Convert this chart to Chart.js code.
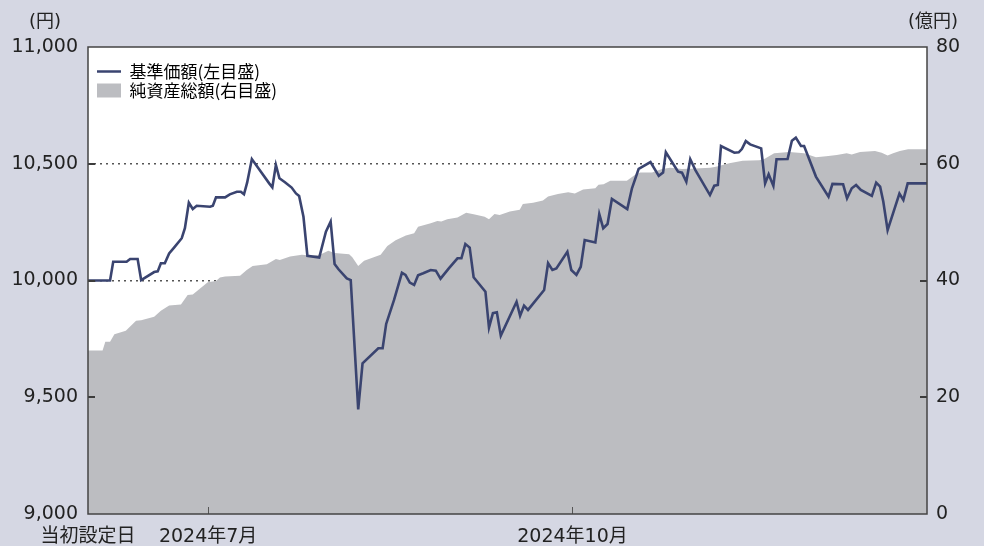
<!DOCTYPE html>
<html lang="ja">
<head>
<meta charset="utf-8">
<script src="https://cdn.jsdelivr.net/npm/chart.js@4.4.1/dist/chart.umd.min.js"></script>
<style>
  html, body { margin: 0; padding: 0; background: #d5d7e3; }
  #wrap { width: 984px; height: 546px; position: relative; }
</style>
</head>
<body>
<div id="wrap"><canvas id="chart" width="984" height="546"></canvas></div>
<script>
const FONT = '"Noto Sans CJK JP", "Noto Sans", sans-serif';
const NUM_FONT = '"DejaVu Sans", "Noto Sans CJK JP", sans-serif';
const NAVY = '#3a4470';
const GRAY = '#bcbdc1';

// x = 当初設定日からの経過日数
const navDay = [0, 5.6, 6.4, 9.8, 10.7, 12.6, 13.5, 16.8, 17.7, 18.5, 19.5, 20.6, 21.9, 23.8, 24.6, 25.6, 26.6, 27.6,
  31.0, 31.7, 32.5, 34.8, 36.0, 37.8, 38.8, 39.6, 40.4, 41.6, 46.0, 46.8, 47.7, 48.6, 50.0, 51.7, 52.8, 53.6,
  54.7, 55.7, 58.7, 60.4, 61.6, 62.6, 63.6, 65.7, 66.7, 68.6, 69.7, 73.7, 74.8, 75.7, 77.7, 79.7, 80.6, 81.7,
  82.8, 83.8, 85.1, 87.0, 88.3, 89.5, 91.6, 93.8, 94.8, 95.8, 96.9, 97.9, 100.9, 101.8, 102.8, 103.8, 104.8,
  108.8, 109.7, 110.7, 111.7, 115.8, 116.8, 117.9, 118.9, 121.7, 122.7, 124.0, 125.1, 126.1, 128.8, 129.8,
  130.8, 131.9, 133.0, 136.9, 138.1, 139.8, 142.8, 144.9, 146.0, 146.7, 149.8, 150.8, 151.9, 152.9, 154.2,
  157.9, 159.0, 159.9, 160.7, 164.1, 165.2, 166.0, 167.0, 168.1, 170.9, 171.9, 172.8, 174.0, 174.8, 177.6,
  178.7, 179.7, 181.0, 181.8, 184.8, 188.0, 189.0, 191.7, 192.7, 193.9, 195.0, 196.2, 199.0, 200.1, 201.1,
  201.9, 203.0, 206.0, 207.0, 208.1, 213.0];
const navValue = [10000, 10000, 10080, 10080, 10092, 10092, 10002, 10036, 10039, 10074, 10074, 10116, 10142, 10181, 10224, 10333, 10306, 10320,
  10316, 10320, 10356, 10356, 10369, 10380, 10380, 10369, 10419, 10520, 10416, 10399, 10495, 10438, 10421, 10398, 10373, 10362,
  10273, 10106, 10098, 10209, 10252, 10071, 10048, 10009, 10002, 9448, 9645, 9710, 9710, 9814, 9917, 10033, 10024, 9991,
  9981, 10022, 10031, 10045, 10042, 10008, 10052, 10095, 10095, 10156, 10141, 10014, 9952, 9798, 9860, 9864, 9764,
  9909, 9849, 9892, 9874, 9959, 10074, 10045, 10052, 10123, 10045, 10024, 10059, 10173, 10163, 10284,
  10224, 10242, 10349, 10306, 10395, 10478, 10507, 10448, 10462, 10549, 10466, 10462, 10423, 10519, 10473,
  10366, 10406, 10409, 10576, 10547, 10549, 10563, 10597, 10583, 10566, 10416, 10455, 10405, 10519, 10520,
  10599, 10612, 10576, 10576, 10445, 10359, 10414, 10412, 10352, 10395, 10409, 10388, 10362, 10419, 10402,
  10338, 10216, 10372, 10345, 10416, 10416];

const assetDay = [0, 3.7, 4.4, 5.6, 6.7, 9.6, 12.2, 13.5, 16.8, 18.5, 20.6, 23.6, 25.3, 26.6, 30.4, 32.5, 33.5, 34.8,
  38.6, 40.3, 41.8, 45.4, 47.7, 48.7, 51.3, 54.3, 56.4, 58.9, 61.0, 62.6, 66.3, 67.1, 68.6, 70.1, 74.3, 76.0,
  78.1, 80.7, 82.8, 83.8, 87.0, 88.7, 89.7, 91.2, 93.8, 96.0, 98.2, 100.7, 101.8, 103.2, 104.5, 107.1, 109.6,
  110.4, 113.0, 115.5, 116.8, 119.3, 121.9, 123.6, 125.7, 128.8, 129.6, 130.9, 132.6, 136.8, 138.9, 140.2,
  143.2, 145.7, 147.8, 150.8, 154.2, 158.0, 159.4, 162.8, 166.2, 170.4, 171.7, 174.2, 178.0, 181.8, 184.8,
  187.4, 190.1, 192.6, 193.9, 196.0, 199.8, 201.5, 203.0, 204.4, 206.1, 208.2, 213.0];
const assetValue = [28.0, 28.0, 29.5, 29.5, 30.8, 31.4, 33.1, 33.2, 33.8, 34.8, 35.7, 35.9, 37.5, 37.6, 39.7, 39.9, 40.5, 40.7,
  40.8, 41.8, 42.5, 42.8, 43.7, 43.5, 44.1, 44.4, 44.3, 44.4, 45.1, 44.7, 44.5, 44.0, 42.5, 43.4, 44.4, 45.9,
  46.9, 47.7, 48.1, 49.2, 49.8, 50.2, 50.1, 50.5, 50.8, 51.6, 51.3, 50.9, 50.5, 51.4, 51.2, 51.8, 52.1,
  53.1, 53.3, 53.7, 54.4, 54.8, 55.1, 54.9, 55.6, 55.8, 56.4, 56.5, 57.1, 57.1, 58.1, 58.5,
  58.5, 59.1, 59.3, 59.1, 59.2, 59.3, 59.5, 60.1, 60.5, 60.6, 60.8, 61.8, 62.0, 61.8, 61.1,
  61.3, 61.5, 61.8, 61.6, 62.0, 62.2, 61.9, 61.4, 61.8, 62.2, 62.5, 62.5];

const xTickDay = [0, 30.5, 123];
const xTickLabel = ['当初設定日', '2024年7月', '2024年10月'];
const leftTicks = [9000, 9500, 10000, 10500, 11000];
const rightTicks = [0, 20, 40, 60, 80];

const toPoints = (xs, ys) => xs.map((x, i) => ({ x: x, y: ys[i] }));

// 枠・内向き目盛・単位
const frame = {
  id: 'frame',
  afterLayout(chart) {
    const lg = chart.legend;
    const a = chart.chartArea;
    const w = lg.width, h = lg.height;
    lg.left = a.left + 7;
    lg.top = a.top + 14;
    lg.right = lg.left + w;
    lg.bottom = lg.top + h;
  },
  beforeDraw(chart) {
    const { ctx, chartArea: a } = chart;
    ctx.save();
    ctx.fillStyle = '#fff';
    ctx.fillRect(a.left, a.top, a.right - a.left, a.bottom - a.top);
    ctx.restore();
  },
  afterDatasetsDraw(chart) {
    const { ctx, chartArea: a, scales } = chart;
    ctx.save();
    ctx.strokeStyle = '#3c3c3c';
    ctx.lineWidth = 2;
    leftTicks.slice(1, -1).forEach((v) => {
      const y = Math.round(scales.y.getPixelForValue(v));
      ctx.beginPath(); ctx.moveTo(a.left, y); ctx.lineTo(a.left + 7, y); ctx.stroke();
    });
    rightTicks.slice(1, -1).forEach((v) => {
      const y = Math.round(scales.y1.getPixelForValue(v));
      ctx.beginPath(); ctx.moveTo(a.right - 7, y); ctx.lineTo(a.right, y); ctx.stroke();
    });
    ctx.lineWidth = 1;
    ctx.strokeStyle = '#555';
    xTickDay.slice(1).forEach((v) => {
      const x = Math.round(scales.x.getPixelForValue(v)) + 0.5;
      ctx.beginPath(); ctx.moveTo(x, a.bottom); ctx.lineTo(x, a.bottom - 7); ctx.stroke();
    });
    ctx.strokeStyle = '#444';
    ctx.lineWidth = 1.5;
    ctx.strokeRect(a.left, a.top, a.right - a.left, a.bottom - a.top);
    ctx.restore();
  },
  afterDraw(chart) {
    const { ctx, chartArea: a } = chart;
    ctx.save();
    ctx.fillStyle = '#222';
    ctx.font = '18px ' + NUM_FONT;
    ctx.textAlign = 'center';
    ctx.textBaseline = 'middle';
    ctx.fillText('(円)', a.left - 43, a.top - 25);
    ctx.fillText('(億円)', a.right + 6, a.top - 25);
    ctx.restore();
  }
};

new Chart(document.getElementById('chart'), {
  type: 'line',
  data: {
    datasets: [
      {
        label: '基準価額(左目盛)',
        data: toPoints(navDay, navValue),
        yAxisID: 'y',
        borderColor: NAVY,
        borderWidth: 2.6,
        pointRadius: 0,
        tension: 0,
        fill: false,
        order: 0
      },
      {
        label: '純資産総額(右目盛)',
        data: toPoints(assetDay, assetValue),
        yAxisID: 'y1',
        borderWidth: 0,
        borderColor: GRAY,
        backgroundColor: GRAY,
        pointRadius: 0,
        tension: 0,
        fill: 'origin',
        order: 1
      }
    ]
  },
  options: {
    responsive: false,
    animation: false,
    devicePixelRatio: 1,
    layout: { padding: { top: 47 } },
    plugins: {
      tooltip: { enabled: false },
      legend: {
        position: 'chartArea',
        align: 'start',
        labels: {
          usePointStyle: true,
          pointStyleWidth: 24,
          boxHeight: 14,
          padding: 2,
          color: '#222',
          font: { family: FONT, size: 17 },
          generateLabels: () => [
            { text: '基準価額(左目盛)', pointStyle: 'line', strokeStyle: NAVY, fillStyle: NAVY, lineWidth: 2.5, datasetIndex: 0 },
            { text: '純資産総額(右目盛)', pointStyle: 'rect', strokeStyle: GRAY, fillStyle: GRAY, lineWidth: 0, datasetIndex: 1 }
          ]
        }
      }
    },
    scales: {
      x: {
        type: 'linear',
        min: 0,
        max: 213,
        afterBuildTicks: (s) => { s.ticks = xTickDay.map((v) => ({ value: v })); },
        afterFit: (s) => { s.height = 32; },
        grid: { display: false, drawTicks: false },
        border: { display: false },
        ticks: {
          autoSkip: false,
          maxRotation: 0,
          padding: 12,
          color: '#222',
          font: { family: NUM_FONT, size: 19 },
          callback: (v) => xTickLabel[xTickDay.indexOf(v)]
        }
      },
      y: {
        position: 'left',
        min: 9000,
        max: 11000,
        afterBuildTicks: (s) => { s.ticks = leftTicks.map((v) => ({ value: v })); },
        afterFit: (s) => { s.width = 88; },
        grid: {
          drawTicks: false,
          color: (c) => (c.tick.value === 9000 || c.tick.value === 11000 ? 'rgba(0,0,0,0)' : '#555'),
          lineWidth: 1.5
        },
        border: { display: false, dash: [2, 4] },
        ticks: {
          padding: 10,
          color: '#222',
          font: { family: NUM_FONT, size: 19 },
          callback: (v) => v.toLocaleString('en-US')
        }
      },
      y1: {
        position: 'right',
        min: 0,
        max: 80,
        afterBuildTicks: (s) => { s.ticks = rightTicks.map((v) => ({ value: v })); },
        afterFit: (s) => { s.width = 57; },
        grid: { drawOnChartArea: false, drawTicks: false },
        border: { display: false },
        ticks: {
          padding: 9,
          color: '#222',
          font: { family: NUM_FONT, size: 19 }
        }
      }
    }
  },
  plugins: [frame]
});
</script>
</body>
</html>
